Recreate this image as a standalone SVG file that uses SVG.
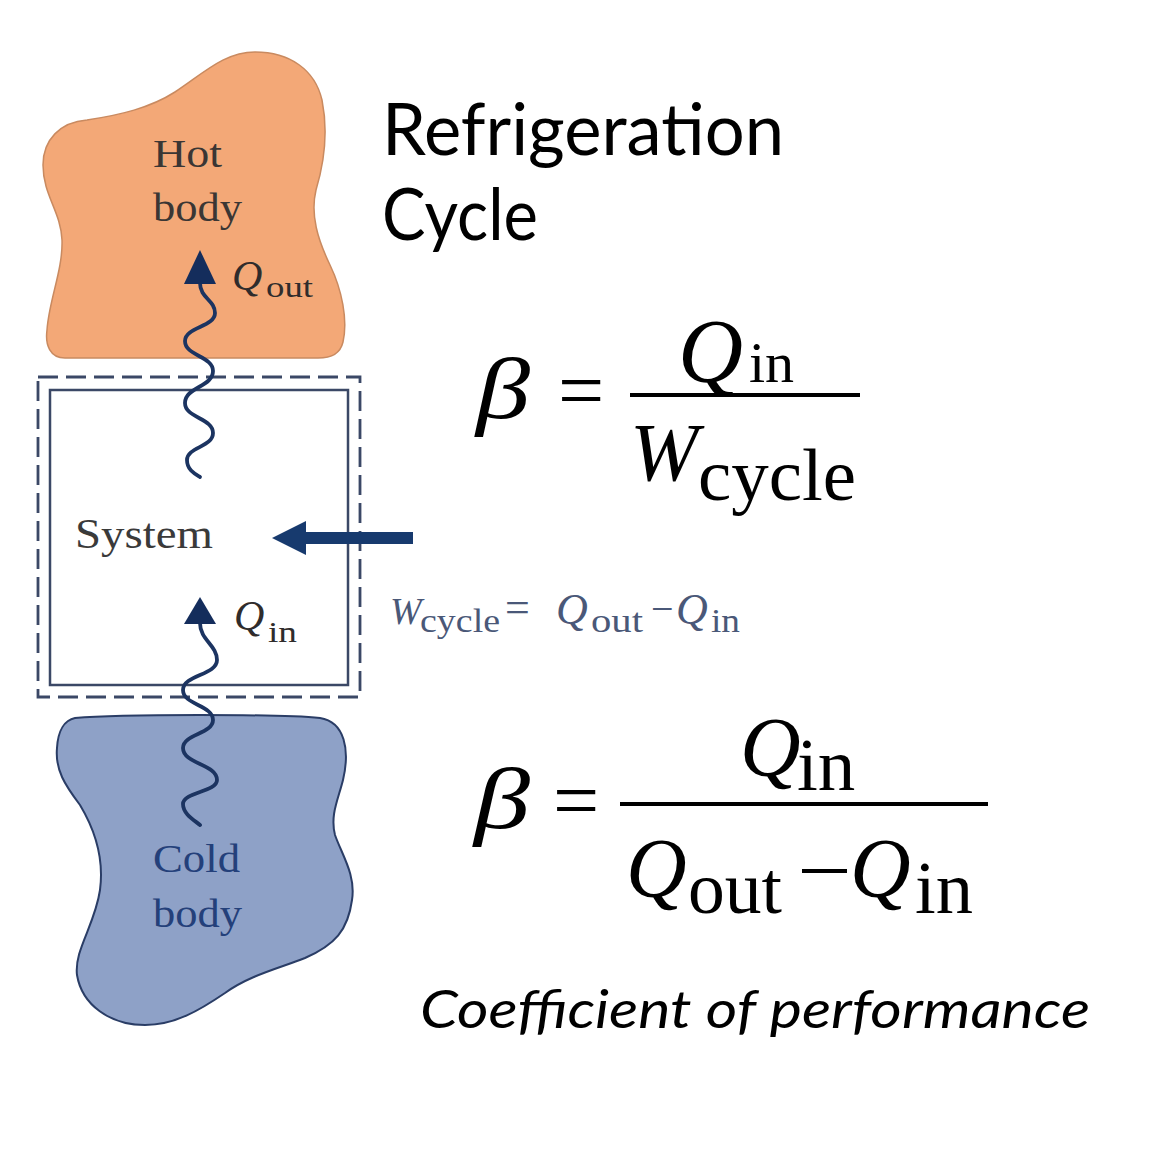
<svg xmlns="http://www.w3.org/2000/svg" width="1175" height="1150" viewBox="0 0 1175 1150">
<defs>
<style>
.lbl{font-family:"Liberation Serif","Times New Roman",serif;}
.it{font-style:italic;}
.math{font-family:"Liberation Serif","Times New Roman",serif;fill:#000;}
.wave{fill:none;stroke:#1c3461;stroke-width:3.8;stroke-linecap:round;}
.head{fill:#142d5c;}
.title{font-family:Lato,"Open Sans",sans-serif;fill:#000;}
</style>
</defs>
<rect width="1175" height="1150" fill="#fff"/>

<g id="hot-body">
<path d="M 87,120 C 120,115 150,108 175,92 C 205,72 225,52 255,52 C 290,52 315,70 322,100 C 328,130 325,160 316,190 C 310,215 318,240 330,265 C 342,290 348,320 343,342 C 340,355 330,358 318,358 L 65,358 C 50,358 45,345 47,330 C 49,300 63,270 62,240 C 61,212 43,195 43,165 C 43,140 60,122 87,120 Z" fill="#f3a877" stroke="#c98a60" stroke-width="1.5"/>
<text class="lbl" x="153" y="167" font-size="40" fill="#3a3634" textLength="69" lengthAdjust="spacingAndGlyphs">Hot</text>
<text class="lbl" x="153" y="221" font-size="40" fill="#3a3634" textLength="89" lengthAdjust="spacingAndGlyphs">body</text>
</g>

<g id="cold-body">
<path d="M 75,718 C 120,714 280,714 320,718 C 345,722 350,750 343,780 C 338,800 330,815 335,835 C 342,855 356,875 352,900 C 348,930 335,945 305,958 C 280,968 250,975 225,993 C 200,1010 175,1025 145,1025 C 110,1025 82,1005 77,975 C 74,950 95,925 100,890 C 104,860 95,830 80,805 C 65,785 55,770 57,748 C 58,730 65,720 75,718 Z" fill="#8ea1c7" stroke="#2a3d66" stroke-width="2"/>
<text class="lbl" x="153" y="872" font-size="40" fill="#24407a" textLength="87" lengthAdjust="spacingAndGlyphs">Cold</text>
<text class="lbl" x="153" y="927" font-size="40" fill="#24407a" textLength="89" lengthAdjust="spacingAndGlyphs">body</text>
</g>

<g id="system">
<rect x="38" y="377" width="322" height="320" fill="none" stroke="#3b4866" stroke-width="2.8" stroke-dasharray="20 8"/>
<rect x="50" y="390" width="298" height="295" fill="none" stroke="#3b4866" stroke-width="2.5"/>
<text class="lbl" x="75" y="548" font-size="42" fill="#3a3a3a" textLength="138" lengthAdjust="spacingAndGlyphs">System</text>
</g>

<g id="connectors">
<path class="wave" d="M200,283 C200,298 215,300 215,313 C215,327 185,327 185,341 C185,356 213,356 213,371 C213,387 185,387 185,403 C185,418 213,418 213,433 C213,447 187,447 187,460 C187,470 195,474 200,477"/>
<polygon class="head" points="200,250 216,284 184,284"/>
<path class="wave" d="M200,623 C200,640 217,645 217,660 C217,675 183,675 183,690 C183,705 213,705 213,720 C213,734 183,734 183,748 C183,764 217,764 217,780 C217,792 183,792 183,804 C183,814 194,820 200,825"/>
<polygon class="head" points="200,597 216,624 184,624"/>
<polygon fill="#173a6e" points="272,538 306,521 306,532 413,532 413,544 306,544 306,555"/>
</g>

<g id="labels" class="lbl">
<text fill="#2f2c2c"><tspan x="232" y="290" font-size="42" class="it">Q</tspan><tspan x="266" y="297" font-size="30" textLength="47" lengthAdjust="spacingAndGlyphs">out</tspan></text>
<text fill="#2f2c2c"><tspan x="234" y="630" font-size="42" class="it">Q</tspan><tspan x="268" y="642" font-size="30" textLength="29" lengthAdjust="spacingAndGlyphs">in</tspan></text>
<text fill="#4a5878"><tspan x="390" y="624" font-size="38" class="it">W</tspan><tspan x="420" y="632" font-size="34" textLength="80" lengthAdjust="spacingAndGlyphs">cycle</tspan><tspan x="505" y="622" font-size="44">=</tspan><tspan x="556" y="624" font-size="44" class="it">Q</tspan><tspan x="591" y="632" font-size="34" textLength="52" lengthAdjust="spacingAndGlyphs">out</tspan><tspan x="651" y="622" font-size="40">−</tspan><tspan x="676" y="624" font-size="44" class="it">Q</tspan><tspan x="711" y="632" font-size="34" textLength="29" lengthAdjust="spacingAndGlyphs">in</tspan></text>
</g>

<g id="title">
<text class="title" x="382" y="155" font-size="72" textLength="402" lengthAdjust="spacingAndGlyphs">Refrigeration</text>
<text class="title" x="382" y="240" font-size="72" textLength="156" lengthAdjust="spacingAndGlyphs">Cycle</text>
</g>

<g id="equation-1" class="math">
<text x="476" y="418" font-size="86" class="it" textLength="54" lengthAdjust="spacingAndGlyphs">β</text>
<text x="558" y="418" font-size="82">=</text>
<rect x="630" y="393" width="230" height="4"/>
<text><tspan x="678" y="382" font-size="90" class="it">Q</tspan><tspan x="749" y="382" font-size="58">in</tspan></text>
<text><tspan x="630" y="480" font-size="82" class="it">W</tspan><tspan x="698" y="500" font-size="75" textLength="158" lengthAdjust="spacingAndGlyphs">cycle</tspan></text>
</g>

<g id="equation-2" class="math">
<text x="474" y="828" font-size="86" class="it" textLength="56" lengthAdjust="spacingAndGlyphs">β</text>
<text x="553" y="828" font-size="82">=</text>
<rect x="620" y="802" width="368" height="4"/>
<text><tspan x="740" y="776" font-size="84" class="it">Q</tspan><tspan x="797" y="790" font-size="75">in</tspan></text>
<text><tspan x="626" y="897" font-size="84" class="it">Q</tspan><tspan x="688" y="913" font-size="75" textLength="94" lengthAdjust="spacingAndGlyphs">out</tspan></text>
<rect x="802" y="869" width="45" height="4"/>
<text><tspan x="850" y="897" font-size="84" class="it">Q</tspan><tspan x="915" y="913" font-size="75" textLength="58" lengthAdjust="spacingAndGlyphs">in</tspan></text>
</g>

<g id="caption">
<text class="title" x="420" y="1028" font-size="52" font-style="italic" textLength="670" lengthAdjust="spacingAndGlyphs">Coefficient of performance</text>
</g>
</svg>
